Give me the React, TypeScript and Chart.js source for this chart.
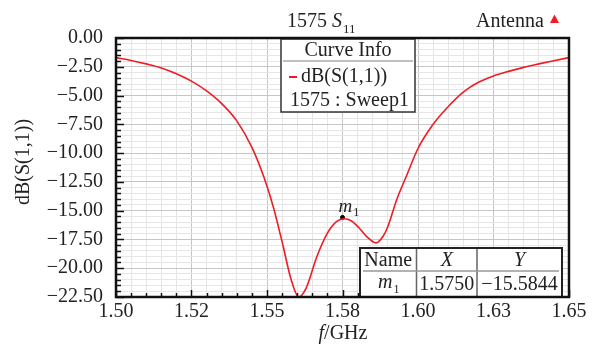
import React, { useEffect, useRef } from 'react';
import { Chart, registerables } from 'chart.js';

Chart.register(...registerables);

// Frequency (GHz) and return loss dB(S(1,1))
const freqGHz = [
  1.5, 1.505, 1.51, 1.515, 1.52, 1.525, 1.53, 1.535, 1.54, 1.545, 1.549, 1.552,
  1.555, 1.558, 1.5605, 1.563, 1.5665, 1.57, 1.573, 1.5755, 1.578, 1.5805, 1.583,
  1.5861, 1.5885, 1.59, 1.593, 1.596, 1.6, 1.605, 1.6095, 1.615, 1.62, 1.625,
  1.63, 1.635, 1.64, 1.645, 1.65,
];
const s11dB = [
  -1.7, -1.95, -2.25, -2.6, -3.1, -3.75, -4.6, -5.7, -7.2, -9.5, -12.1, -14.6,
  -17.7, -21.0, -22.5, -21.7, -19.0, -16.95, -15.95, -15.7, -15.9, -16.5, -17.25,
  -17.8, -17.2, -16.4, -14.0, -12.1, -9.6, -7.5, -6.1, -4.7, -3.85, -3.3,
  -2.9, -2.55, -2.25, -1.97, -1.7,
];

const xMajorLabels = ['1.50', '1.52', '1.55', '1.58', '1.60', '1.63', '1.65'];
const xMajorValues = [1.5, 1.525, 1.55, 1.575, 1.6, 1.625, 1.65];
const yMajorLabels = ['0.00', '−2.50', '−5.00', '−7.50', '−10.00', '−12.50', '−15.00', '−17.50', '−20.00', '−22.50'];
const yMajorValues = [0, -2.5, -5, -7.5, -10, -12.5, -15, -17.5, -20, -22.5];
const minorPerMajor = 5;

const markerName = 'm';
const markerSub = '1';
const markerX = 1.575;
const markerY = -15.5844;
const markerXText = '1.5750';
const markerYText = '−15.5844';

const titleMain = '1575 ';
const titleS = 'S';
const titleSub = '11';
const projectName = 'Antenna';
const legendHeader = 'Curve Info';
const legendTrace = 'dB(S(1,1))';
const legendSweep = '1575 : Sweep1';
const yAxisTitle = 'dB(S(1,1))';

const RED = '#ee1d25';
const FONT = '"Liberation Serif", "Times New Roman", serif';

function buildTicks(majors: number[]) {
  const sorted = [...majors].sort((a, b) => a - b);
  const out: number[] = [];
  for (let i = 0; i < sorted.length - 1; i++) {
    const a = sorted[i];
    const b = sorted[i + 1];
    for (let k = 0; k < minorPerMajor; k++) out.push(a + ((b - a) * k) / minorPerMajor);
  }
  out.push(sorted[sorted.length - 1]);
  return out;
}

const xTickValues = buildTicks(xMajorValues);
const yTickValues = buildTicks(yMajorValues);

function labelFor(value: number, majors: number[], labels: string[]) {
  for (let i = 0; i < majors.length; i++) {
    if (Math.abs(majors[i] - value) < 1e-9) return labels[i];
  }
  return '';
}

const extras = {
  id: 'extras',
  afterDraw(chart: any) {
    const ctx: CanvasRenderingContext2D = chart.ctx;
    const { left, right, top, bottom } = chart.chartArea;
    const xs = chart.scales.x;
    const ys = chart.scales.y;
    ctx.save();

    // inward tick marks
    ctx.strokeStyle = '#111';
    ctx.lineWidth = 1.5;
    xs.ticks.forEach((t: any, i: number) => {
      const px = Math.round(xs.getPixelForValue(t.value)) + 0.5;
      const len = i % minorPerMajor === 0 ? 7 : 4;
      ctx.beginPath();
      ctx.moveTo(px, bottom);
      ctx.lineTo(px, bottom - len);
      ctx.stroke();
    });
    ys.ticks.forEach((t: any, i: number) => {
      const py = Math.round(ys.getPixelForValue(t.value)) + 0.5;
      const len = i % minorPerMajor === 0 ? 8 : 5;
      ctx.beginPath();
      ctx.moveTo(left, py);
      ctx.lineTo(left + len, py);
      ctx.stroke();
    });

    // title
    ctx.fillStyle = '#222';
    ctx.textBaseline = 'alphabetic';
    ctx.textAlign = 'left';
    ctx.font = `20px ${FONT}`;
    let tx = 287;
    ctx.fillText(titleMain, tx, 27);
    tx += ctx.measureText(titleMain).width;
    ctx.font = `italic 20px ${FONT}`;
    ctx.fillText(titleS, tx, 27);
    tx += ctx.measureText(titleS).width + 1;
    ctx.font = `13px ${FONT}`;
    ctx.fillText(titleSub, tx, 33);

    // project name + triangle
    ctx.font = `20px ${FONT}`;
    ctx.fillText(projectName, 476, 27);
    ctx.fillStyle = RED;
    ctx.beginPath();
    ctx.moveTo(554.5, 14.5);
    ctx.lineTo(559, 23);
    ctx.lineTo(550, 23);
    ctx.closePath();
    ctx.fill();

    // y axis title
    ctx.fillStyle = '#222';
    ctx.save();
    ctx.translate(29, 162);
    ctx.rotate(-Math.PI / 2);
    ctx.textAlign = 'center';
    ctx.font = `20px ${FONT}`;
    ctx.fillText(yAxisTitle, 0, 0);
    ctx.restore();

    // x axis title f/GHz
    ctx.font = `italic 20px ${FONT}`;
    const fW = ctx.measureText('f').width;
    ctx.font = `20px ${FONT}`;
    const restW = ctx.measureText('/GHz').width;
    const ax = 343 - (fW + restW) / 2;
    ctx.font = `italic 20px ${FONT}`;
    ctx.fillText('f', ax, 339);
    ctx.font = `20px ${FONT}`;
    ctx.fillText('/GHz', ax + fW, 339);

    // marker label
    const mx = xs.getPixelForValue(markerX);
    const my = ys.getPixelForValue(markerY);
    ctx.font = `italic 19px ${FONT}`;
    ctx.fillText(markerName, mx - 4, my - 5);
    const mW = ctx.measureText(markerName).width;
    ctx.font = `12px ${FONT}`;
    ctx.fillText(markerSub, mx - 4 + mW + 1, my - 1);

    // legend box
    const lx0 = 281, lx1 = 415, ly0 = 39, ly1 = 112;
    ctx.fillStyle = '#fff';
    ctx.fillRect(lx0, ly0, lx1 - lx0, ly1 - ly0);
    ctx.strokeStyle = '#333';
    ctx.lineWidth = 1.5;
    ctx.strokeRect(lx0, ly0, lx1 - lx0, ly1 - ly0);
    ctx.strokeStyle = '#aaa';
    ctx.lineWidth = 1.5;
    ctx.beginPath();
    ctx.moveTo(lx0 + 2, 61);
    ctx.lineTo(lx1 - 2, 61);
    ctx.stroke();
    ctx.fillStyle = '#222';
    ctx.textAlign = 'center';
    ctx.font = `20px ${FONT}`;
    ctx.fillText(legendHeader, (lx0 + lx1) / 2, 56);
    ctx.textAlign = 'left';
    ctx.fillText(legendTrace, 301, 82);
    ctx.fillText(legendSweep, 290, 106);
    ctx.strokeStyle = RED;
    ctx.lineWidth = 2;
    ctx.beginPath();
    ctx.moveTo(289, 77);
    ctx.lineTo(297, 77);
    ctx.stroke();

    // marker table
    const tx0 = 360, tx1 = 562, ty0 = 248, ty1 = bottom;
    const c1 = 416.5, c2 = 477;
    ctx.fillStyle = '#fff';
    ctx.fillRect(tx0, ty0, tx1 - tx0, ty1 - ty0);
    ctx.strokeStyle = '#666';
    ctx.lineWidth = 1.5;
    ctx.beginPath();
    ctx.moveTo(c1, ty0);
    ctx.lineTo(c1, ty1);
    ctx.moveTo(c2, ty0);
    ctx.lineTo(c2, ty1);
    ctx.stroke();
    ctx.strokeStyle = '#999';
    ctx.beginPath();
    ctx.moveTo(tx0 + 3, 271);
    ctx.lineTo(tx1 - 3, 271);
    ctx.stroke();
    ctx.strokeStyle = '#222';
    ctx.lineWidth = 2;
    ctx.strokeRect(tx0, ty0, tx1 - tx0, ty1 - ty0);
    ctx.fillStyle = '#222';
    ctx.textAlign = 'center';
    ctx.font = `20px ${FONT}`;
    ctx.fillText('Name', (tx0 + c1) / 2, 266);
    ctx.font = `italic 20px ${FONT}`;
    ctx.fillText('X', (c1 + c2) / 2, 266);
    ctx.fillText('Y', (c2 + tx1) / 2, 266);
    ctx.font = `20px ${FONT}`;
    ctx.fillText(markerXText, (c1 + c2) / 2, 290);
    ctx.fillText(markerYText, (c2 + tx1) / 2, 290);
    ctx.textAlign = 'left';
    ctx.font = `italic 20px ${FONT}`;
    const nW = ctx.measureText(markerName).width;
    const nx = (tx0 + c1) / 2 - (nW + 6) / 2;
    ctx.fillText(markerName, nx, 288);
    ctx.font = `12px ${FONT}`;
    ctx.fillText(markerSub, nx + nW + 1, 293);

    // frame
    ctx.strokeStyle = '#111';
    ctx.lineWidth = 2.5;
    ctx.strokeRect(left, top, right - left, bottom - top);

    ctx.restore();
  },
};

export default function App() {
  const ref = useRef<HTMLCanvasElement | null>(null);

  useEffect(() => {
    if (!ref.current) return;
    const chart = new Chart(ref.current, {
      type: 'line',
      data: {
        datasets: [
          {
            data: freqGHz.map((f, i) => ({ x: f, y: s11dB[i] })),
            borderColor: RED,
            borderWidth: 1.6,
            pointRadius: 0,
            cubicInterpolationMode: 'monotone',
            fill: false,
          },
          {
            data: [{ x: markerX, y: markerY }],
            borderColor: '#000',
            backgroundColor: '#000',
            pointRadius: 2,
            showLine: false,
          },
        ],
      },
      options: {
        responsive: false,
        animation: false,
        devicePixelRatio: 1,
        layout: { padding: { left: 0, right: 28, top: 38, bottom: 0 } },
        plugins: { legend: { display: false }, tooltip: { enabled: false }, title: { display: false } },
        scales: {
          x: {
            type: 'linear',
            min: 1.5,
            max: 1.65,
            afterBuildTicks: (s: any) => {
              s.ticks = xTickValues.map((v) => ({ value: v }));
            },
            afterFit: (s: any) => {
              s.height = 47;
            },
            border: { display: false },
            grid: {
              drawTicks: false,
              color: (c: any) => (c.index % minorPerMajor === 0 ? '#c6c6c6' : '#e6e6e6'),
              lineWidth: 1,
            },
            ticks: {
              autoSkip: false,
              maxRotation: 0,
              padding: 3,
              color: '#222',
              font: { family: FONT, size: 20 },
              callback: (v: any) => labelFor(Number(v), xMajorValues, xMajorLabels),
            },
          },
          y: {
            type: 'linear',
            min: -22.5,
            max: 0,
            afterBuildTicks: (s: any) => {
              s.ticks = yTickValues.map((v) => ({ value: v }));
            },
            afterFit: (s: any) => {
              s.width = 116;
            },
            border: { display: false },
            grid: {
              drawTicks: false,
              color: (c: any) => (c.index % minorPerMajor === 0 ? '#c6c6c6' : '#e6e6e6'),
              lineWidth: 1,
            },
            ticks: {
              autoSkip: false,
              padding: 13,
              color: '#222',
              font: { family: FONT, size: 20 },
              callback: (v: any) => labelFor(Number(v), yMajorValues, yMajorLabels),
            },
          },
        },
      },
      plugins: [extras],
    } as any);
    return () => chart.destroy();
  }, []);

  return (
    <div style={{ position: 'absolute', left: 0, top: 0, width: 597, height: 344, background: '#fff' }}>
      <canvas ref={ref} width={597} height={344} style={{ display: 'block', width: 597, height: 344 }} />
    </div>
  );
}
